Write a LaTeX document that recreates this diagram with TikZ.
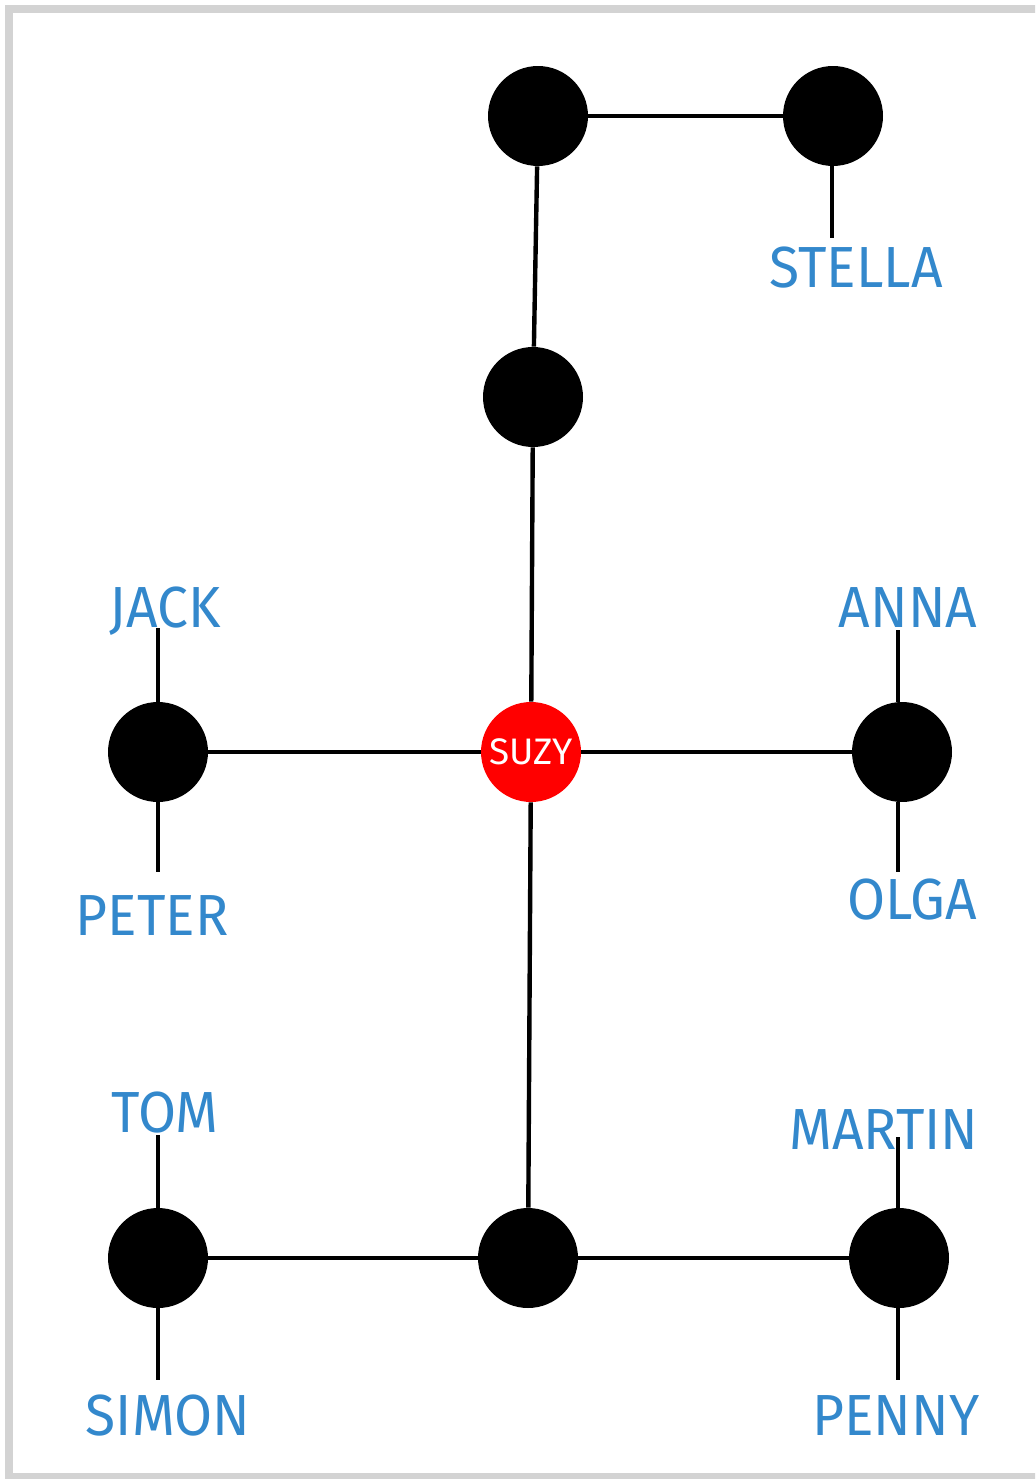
\documentclass[tikz,border=0pt]{standalone}
\usepackage{fontspec}
\setmainfont{Fira Sans}
\newfontfamily\lblfont[FakeStretch=0.95]{Fira Sans}
\usepackage{xcolor}
\definecolor{namblue}{HTML}{3388CC}
\definecolor{frmgrey}{HTML}{D3D3D3}
\definecolor{suzyred}{HTML}{FF0000}

\tikzset{
  dot/.style={circle, fill=black, minimum size=2cm, inner sep=0pt},
  suzydot/.style={dot, fill=suzyred, text=white, font=\fontsize{21}{21}\selectfont},
  namelbl/.style={anchor=base, text=namblue, inner sep=0pt, font=\lblfont\fontsize{33}{33}\selectfont},
  link/.style={line width=2.5pt, black}
}

\begin{document}
\begin{tikzpicture}[x=0.02cm, y=-0.02cm]
        \useasboundingbox (0,0) rectangle (1035,1479);
        \clip (0,0) rectangle (1035,1479);
        \draw[frmgrey, line width=0.16cm] (1060,9) -- (9,9) -- (9,1477) -- (1060,1477);

        % family dots
        \node[dot] (topl) at (538,116) {};
        \node[dot] (topr) at (833,116) {};
        \node[dot] (mid) at (533,397) {};
        \node[suzydot] (suzy) at (531,752) {SUZY};
        \node[dot] (jack) at (158,752) {};
        \node[dot] (anna) at (902,752) {};
        \node[dot] (low) at (528,1258) {};
        \node[dot] (tom) at (158,1258) {};
        \node[dot] (martin) at (899,1258) {};

        % names
        \node[namelbl] (lblstella) at (856,288) {STELLA};
        \node[namelbl] (lbljack) at (165,627) {JACK};
        \node[namelbl] (lblanna) at (908,627) {ANNA};
        \node[namelbl] (lblpeter) at (152,935) {PETER};
        \node[namelbl] (lblolga) at (912,919) {OLGA};
        \node[namelbl] (lbltom) at (165,1132) {TOM};
        \node[namelbl] (lblmartin) at (884,1149) {MARTIN};
        \node[namelbl] (lblsimon) at (168,1435) {SIMON};
        \node[namelbl] (lblpenny) at (896,1435) {PENNY};

        % stub ends
        \coordinate (estella) at (832,238);
        \coordinate (ejack) at (158,628);
        \coordinate (epeter) at (158,872);
        \coordinate (eanna) at (898,630);
        \coordinate (eolga) at (898,872);
        \coordinate (etom) at (158,1135);
        \coordinate (esimon) at (158,1380);
        \coordinate (emartin) at (898,1137);
        \coordinate (epenny) at (898,1380);

        % links
        \draw[link] (topl) -- (topr);
        \draw[link] (topl) -- (mid);
        \draw[link] (mid) -- (suzy);
        \draw[link] (suzy) -- (jack);
        \draw[link] (suzy) -- (anna);
        \draw[link] (suzy) -- (low);
        \draw[link] (low) -- (tom);
        \draw[link] (low) -- (martin);
        \draw[link] (estella |- topr.south) -- (estella);
        \draw[link] (jack) -- (ejack);
        \draw[link] (jack) -- (epeter);
        \draw[link] (eanna |- anna.north) -- (eanna);
        \draw[link] (eolga |- anna.south) -- (eolga);
        \draw[link] (tom) -- (etom);
        \draw[link] (tom) -- (esimon);
        \draw[link] (emartin |- martin.north) -- (emartin);
        \draw[link] (epenny |- martin.south) -- (epenny);
      \end{tikzpicture}
\end{document}
